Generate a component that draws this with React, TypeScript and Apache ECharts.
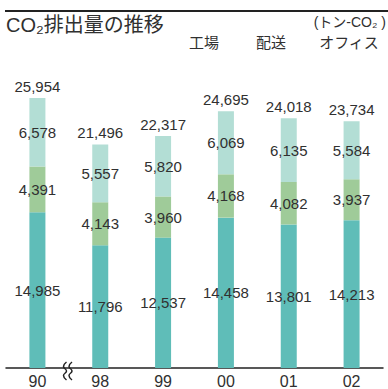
import React, { useEffect, useRef } from "react";
import * as echarts from "echarts";

const categories = ["90", "98", "99", "00", "01", "02"];
const factory = [14985, 11796, 12537, 14458, 13801, 14213];
const delivery = [4391, 4143, 3960, 4168, 4082, 3937];
const office = [6578, 5557, 5820, 6069, 6135, 5584];
const totals = [25954, 21496, 22317, 24695, 24018, 23734];
const seriesNames = ["工場", "配送", "オフィス"];
const titleText = "CO₂排出量の推移";
const unitText = "(トン-CO₂ )";

const fmt = (v: number) => v.toLocaleString("en-US");
const NUM_FONT = "Liberation Sans, Arial, sans-serif";
const CJK_FONT = "Liberation Sans, Noto Sans CJK JP, sans-serif";
const TEXT = "#303030";

export default function App() {
  const ref = useRef<HTMLDivElement>(null);
  useEffect(() => {
    if (!ref.current) return;
    const chart = echarts.init(ref.current, null, { renderer: "svg" });
    const segLabel = {
      show: true,
      position: "inside" as const,
      color: TEXT,
      fontSize: 15,
      fontFamily: NUM_FONT,
      formatter: (p: any) => fmt(p.value),
    };
    const colors = ["#5fbdb8", "#9fcb99", "#b3ded5"];
    const datasets = [factory, delivery, office];
    const series: any[] = datasets.map((d, i) => ({
      name: seriesNames[i],
      type: "bar",
      stack: "total",
      barWidth: 16,
      data: d,
      itemStyle: { color: colors[i] },
      label: segLabel,
    }));
    series.push({
      name: "total",
      type: "bar",
      stack: "total",
      barWidth: 16,
      data: totals.map(() => 0),
      itemStyle: { color: "transparent" },
      label: {
        show: true,
        position: "top",
        distance: 4,
        color: TEXT,
        fontSize: 15,
        fontFamily: NUM_FONT,
        formatter: (p: any) => fmt(totals[p.dataIndex]),
      },
    });
    const squiggle = (x: number) => ({
      type: "polyline",
      shape: {
        points: [
          [x + 1.5, 362],
          [x - 1.5, 366.5],
          [x + 1.5, 371],
          [x - 1.5, 375.5],
          [x + 1.5, 380],
        ],
        smooth: 0.5,
      },
      style: { stroke: "#222", lineWidth: 1.5, fill: "none" },
      z: 100,
    });
    chart.setOption({
      animation: false,
      grid: { left: 6, right: 5, top: 56, bottom: 15, containLabel: false },
      xAxis: {
        type: "category",
        data: categories,
        axisLine: { lineStyle: { color: "#222", width: 1.5 } },
        axisTick: { show: false },
        axisLabel: {
          color: TEXT,
          fontSize: 16,
          fontFamily: NUM_FONT,
          margin: 5,
        },
      },
      yAxis: { type: "value", min: 0, max: 30000, show: false },
      series,
      graphic: [
        {
          type: "rect",
          shape: { x: 5, y: 10, width: 383, height: 2 },
          style: { fill: "#222" },
          z: 100,
        },
        {
          type: "text",
          x: 6,
          y: 25,
          style: {
            text: titleText,
            fontSize: 20,
            fontFamily: CJK_FONT,
            fill: TEXT,
            verticalAlign: "middle",
          },
        },
        {
          type: "text",
          x: 386,
          y: 22,
          style: {
            text: unitText,
            fontSize: 14,
            fontFamily: CJK_FONT,
            fill: TEXT,
            align: "right",
            verticalAlign: "middle",
          },
        },
        ...seriesNames.map((n, i) => ({
          type: "text",
          x: [204, 271, 349][i],
          y: 42,
          style: {
            text: n,
            fontSize: 15,
            fontFamily: CJK_FONT,
            fill: TEXT,
            align: "center",
            verticalAlign: "middle",
          },
        })),
        {
          type: "rect",
          shape: { x: 65, y: 371, width: 5.5, height: 6 },
          style: { fill: "#fff" },
          z: 99,
        },
        squiggle(65),
        squiggle(70.5),
      ],
    });
    return () => chart.dispose();
  }, []);
  return (
    <div
      ref={ref}
      style={{ position: "fixed", left: 0, top: 0, width: 388, height: 389, background: "#fff" }}
    />
  );
}
